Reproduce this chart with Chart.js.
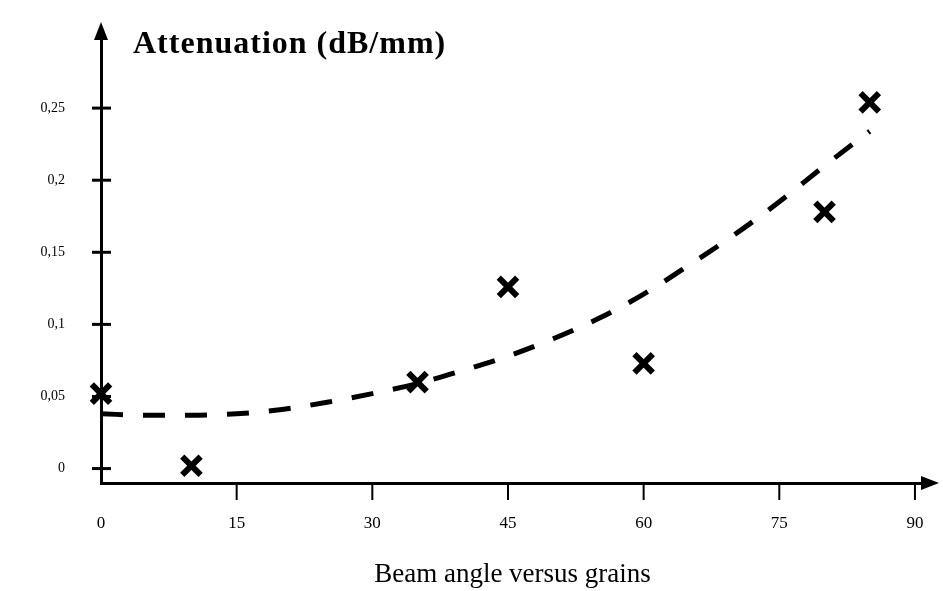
<!DOCTYPE html>
<html>
<head>
<meta charset="utf-8">
<title>Attenuation vs beam angle</title>
<script src="https://cdn.jsdelivr.net/npm/chart.js@4"></script>
<style>
    html, body { margin: 0; padding: 0; background: #fff; }
    #wrap { width: 943px; height: 591px; position: relative; }
</style>
</head>
<body>
<div id="wrap"><canvas id="chart"></canvas></div>
<script>
// Measured points (beam angle in degrees, attenuation in dB/mm)
const angles = [0, 10, 35, 45, 60, 80, 85];
const attenuation = [0.052, 0.002, 0.060, 0.126, 0.073, 0.178, 0.254];

// Dashed trend curve
const trendAngles = [0, 5, 10, 15, 20, 25, 30, 35, 40, 45, 50, 55, 60, 65, 70, 75, 80, 85];
const trendValues = [0.038, 0.037, 0.037, 0.038, 0.041, 0.046, 0.052, 0.059, 0.068, 0.078,
                     0.090, 0.104, 0.121, 0.141, 0.162, 0.185, 0.210, 0.234];

// Axis ticks
const xTickValues = [0, 15, 30, 45, 60, 75, 90];
const yTickValues = [0, 0.05, 0.1, 0.15, 0.2, 0.25];
const yTickLabels = ['0', '0,05', '0,1', '0,15', '0,2', '0,25'];

const yAxisTitle = 'Attenuation (dB/mm)';
const xAxisTitle = 'Beam angle versus grains';

const serif = "'Liberation Serif', 'DejaVu Serif', serif";

// Keep the label overflow from eating into the plot area
function noScalePadding(scale) {
    scale.paddingTop = 0;
    scale.paddingBottom = 0;
    scale.paddingLeft = 0;
    scale.paddingRight = 0;
}

// Draws the cross ticks, arrow heads and the y title
const axisDecor = {
    id: 'axisDecor',
    afterDraw(chart) {
        const ctx = chart.ctx;
        const x = chart.scales.x;
        const y = chart.scales.y;
        const left = chart.chartArea.left;
        const bottom = chart.chartArea.bottom;
        const top = chart.chartArea.top;
        const right = chart.chartArea.right;

        ctx.save();
        ctx.strokeStyle = '#000';
        ctx.fillStyle = '#000';

        // y ticks cross the axis
        ctx.lineWidth = 3;
        yTickValues.forEach(v => {
            const py = y.getPixelForValue(v);
            ctx.beginPath();
            ctx.moveTo(left - 9, py);
            ctx.lineTo(left + 10, py);
            ctx.stroke();
        });

        // x ticks hang below the axis
        ctx.lineWidth = 2;
        xTickValues.forEach(v => {
            if (v === 0) return;
            const px = x.getPixelForValue(v);
            ctx.beginPath();
            ctx.moveTo(px, bottom);
            ctx.lineTo(px, bottom + 17);
            ctx.stroke();
        });

        // arrow heads
        ctx.beginPath();
        ctx.moveTo(left, top - 14);
        ctx.lineTo(left - 7, top + 4);
        ctx.lineTo(left + 7, top + 4);
        ctx.closePath();
        ctx.fill();

        ctx.beginPath();
        ctx.moveTo(right + 15, bottom);
        ctx.lineTo(right - 3, bottom - 7);
        ctx.lineTo(right - 3, bottom + 7);
        ctx.closePath();
        ctx.fill();

        // y axis title next to the arrow
        ctx.font = 'bold 32px ' + serif;
        ctx.letterSpacing = '1px';
        ctx.textBaseline = 'middle';
        ctx.textAlign = 'left';
        ctx.fillText(yAxisTitle, left + 32, 45);
        ctx.restore();
    }
};

const ctx = document.getElementById('chart').getContext('2d');

window.attenuationChart = new Chart(ctx, {
    type: 'scatter',
    data: {
        datasets: [
            {
                label: 'Trend',
                data: trendAngles.map((a, i) => ({ x: a, y: trendValues[i] })),
                showLine: true,
                borderColor: '#000',
                borderWidth: 5,
                borderDash: [22, 20],
                borderCapStyle: 'butt',
                cubicInterpolationMode: 'monotone',
                pointRadius: 0,
                fill: false
            },
            {
                label: 'Measured',
                data: angles.map((a, i) => ({ x: a, y: attenuation[i] })),
                showLine: false,
                pointStyle: 'crossRot',
                pointRadius: 13,
                borderWidth: 6,
                borderColor: '#000',
                backgroundColor: '#000',
                clip: false
            }
        ]
    },
    options: {
        responsive: true,
        maintainAspectRatio: false,
        animation: false,
        layout: {
            padding: { top: 36, right: 13, bottom: 0, left: 0 }
        },
        scales: {
            x: {
                type: 'linear',
                min: 0,
                max: 91,
                afterBuildTicks: function(scale) {
                    scale.ticks = xTickValues.map(v => ({ value: v }));
                },
                afterFit: function(scale) {
                    scale.height = 108;
                    noScalePadding(scale);
                },
                grid: { display: false, drawTicks: false },
                border: { display: true, color: '#000', width: 3 },
                ticks: {
                    color: '#000',
                    padding: 30,
                    maxRotation: 0,
                    autoSkip: false,
                    font: { family: serif, size: 17 }
                },
                title: {
                    display: true,
                    text: xAxisTitle,
                    color: '#000',
                    font: { family: serif, size: 27 },
                    padding: { top: 0, bottom: 0 }
                }
            },
            y: {
                type: 'linear',
                min: -0.01,
                max: 0.30,
                afterBuildTicks: function(scale) {
                    scale.ticks = yTickValues.map(v => ({ value: v }));
                },
                afterFit: function(scale) {
                    scale.width = 101;
                    noScalePadding(scale);
                },
                grid: { display: false, drawTicks: false },
                border: { display: true, color: '#000', width: 3 },
                ticks: {
                    color: '#000',
                    padding: 36,
                    autoSkip: false,
                    font: { family: serif, size: 14 },
                    callback: function(value) {
                        const i = yTickValues.findIndex(v => Math.abs(v - value) < 1e-9);
                        return i >= 0 ? yTickLabels[i] : '';
                    }
                }
            }
        },
        plugins: {
            legend: { display: false },
            tooltip: { enabled: false }
        }
    },
    plugins: [axisDecor]
});
</script>
</body>
</html>
